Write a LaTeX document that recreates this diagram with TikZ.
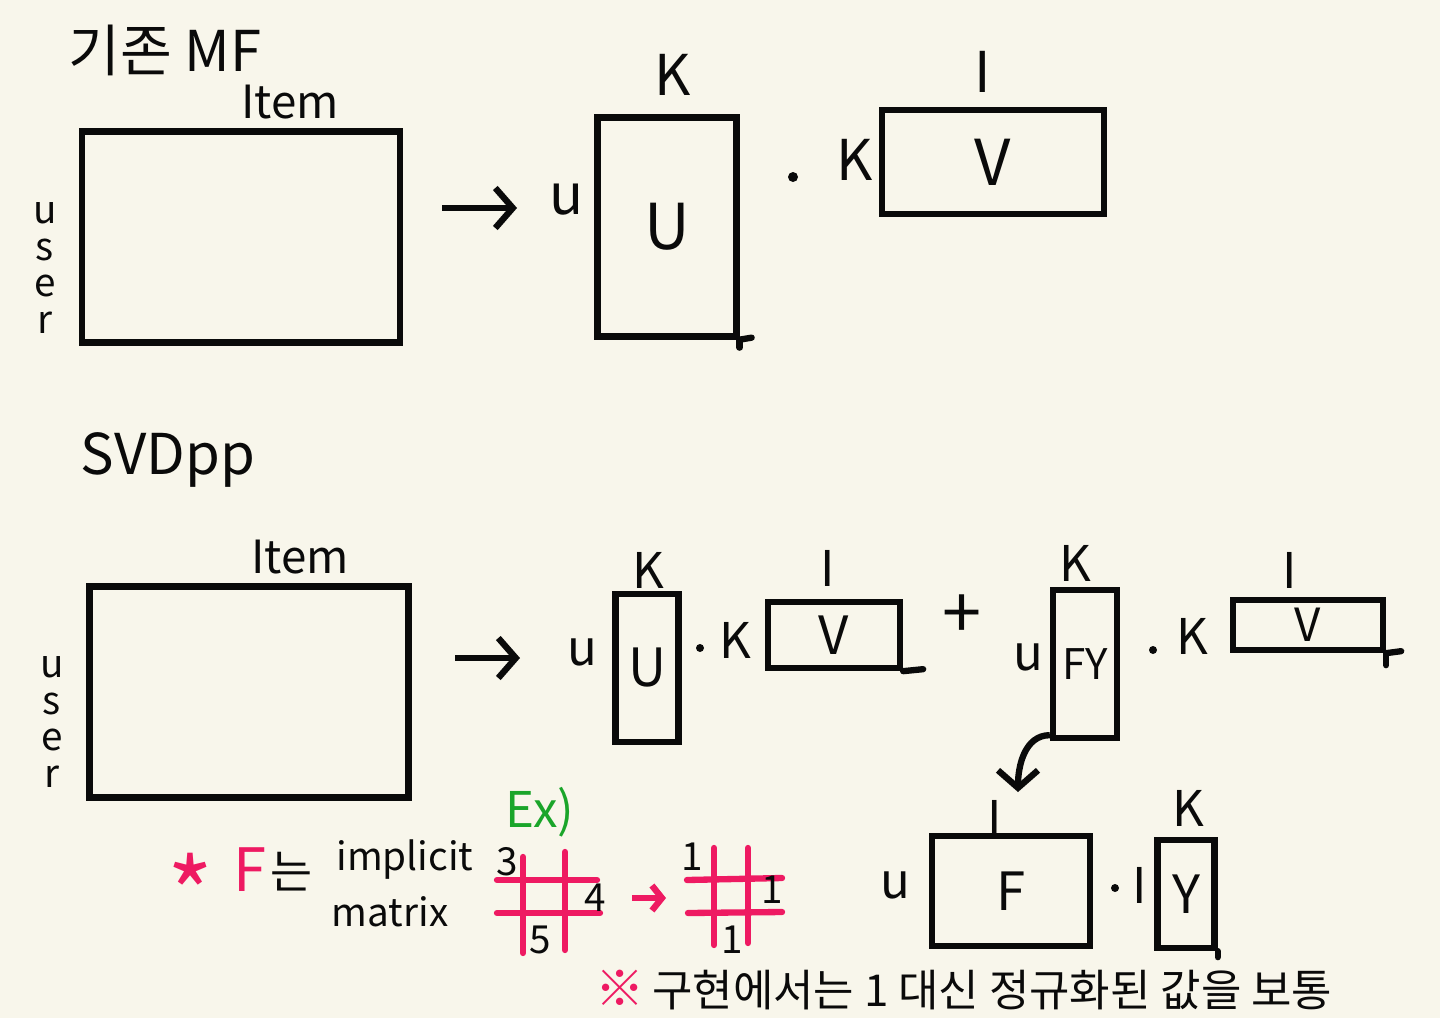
\documentclass[tikz,border=0pt]{standalone}
\usepackage{fontspec}
\setmainfont{Noto Sans CJK KR}
\usetikzlibrary{arrows.meta,positioning}
\definecolor{paper}{HTML}{F8F6EB}
\definecolor{ink}{HTML}{0A0A0A}
\definecolor{hotpink}{HTML}{EE1A62}
\definecolor{exgreen}{HTML}{1AA52A}
\tikzset{
  >={Straight Barb[length=3.5mm,width=8mm]},
  % 행렬
  mat/.style={draw=ink,line width=3.6pt,inner sep=0pt},
  big/.style={font=\fontsize{36}{36}\selectfont,text=ink},
  bigb/.style={font=\fontsize{30}{30}\selectfont,text=ink},
  lbla/.style={font=\fontsize{32}{32}\selectfont,text=ink,inner sep=0pt},
  lblb/.style={font=\fontsize{28}{28}\selectfont,text=ink,inner sep=0pt},
  title/.style={font=\fontsize{32}{36}\selectfont,text=ink,inner sep=0pt},
  item/.style={font=\fontsize{26}{26}\selectfont,text=ink,inner sep=0pt},
  usr/.style={font=\fontsize{22}{21}\selectfont,text=ink,align=center,inner sep=0pt},
  dotn/.style={circle,fill=ink,inner sep=0pt,minimum size=0.2cm},
  arr/.style={->,draw=ink,line width=3.6pt},
  tick/.style={draw=ink,line width=3.6pt,line cap=round},
  % 메모
  grid/.style={draw=hotpink,line width=3.6pt,line cap=round},
  num/.style={font=\fontsize{22}{22}\selectfont,text=ink,inner sep=0pt},
  note/.style={font=\fontsize{22}{22}\selectfont,text=ink,inner sep=0pt},
  pinkt/.style={font=\fontsize{34}{34}\selectfont,text=hotpink,inner sep=0pt},
}

\begin{document}
\begin{tikzpicture}[x=0.02cm,y=-0.02cm]
\useasboundingbox (0,0) rectangle (1440,1018);
\fill[paper] (0,0) rectangle (1440,1018);
% 기존 MF
  \node[title] (mf) at (165,50) {기존 MF};
  \node[mat,minimum width=6.36cm,minimum height=4.22cm] (R1) at (241,237) {};
  \node[item] (item1) at (290,102) {Item};
  \node[usr] (user1) at (45,268) {u\\s\\e\\r};
  \coordinate (a1s) at (442,208);
  \coordinate (a1e) at (517,208);
  \draw[arr] (a1s) -- (a1e);
  \node[lbla] (u1) at (567,200) {u};
  \node[mat,big,minimum width=2.78cm,minimum height=4.38cm] (U1) at (667,227) {U};
  \node[lbla] (k1) at (673,75) {K};
  \draw[tick] (U1.south east) -- ++(12,-2);
  \draw[tick] (U1.south east) -- ++(0,8);
  \node[dotn] (d1) at (793,177) {};
  \node[lbla] (k2) at (855,160) {K};
  \node[mat,big,minimum width=4.44cm,minimum height=2.08cm] (V1) at (993,162) {V};
  \node[lbla] (i1) at (983,72) {I};
% SVDpp
  \node[title] (svd) at (168,460) {SVDpp};
  \node[mat,minimum width=6.38cm,minimum height=4.22cm] (R2) at (249,692) {};
  \node[item] (item2) at (300,557) {Item};
  \node[usr] (user2) at (52,722) {u\\s\\e\\r};
  \coordinate (a2s) at (455,658);
  \coordinate (a2e) at (520,658);
  \draw[arr] (a2s) -- (a2e);
  \node[lblb] (u2) at (582,652) {u};
  \node[mat,bigb,minimum width=1.26cm,minimum height=2.96cm] (U2) at (647,668) {U};
  \node[lblb] (k3) at (648,570) {K};
  \node[dotn,minimum size=0.16cm] (d2) at (700,648) {};
  \node[lblb] (k4) at (735,640) {K};
  \node[mat,bigb,minimum width=2.64cm,minimum height=1.32cm] (V2) at (834,635) {V};
  \node[lblb] (i2) at (828,568) {I};
  \draw[tick] (V2.south east) -- ++(20,-2);
  \node[font=\fontsize{40}{40}\selectfont,text=ink] (plus) at (962,617) {+};
  \node[lblb] (u3) at (1028,657) {u};
  \node[mat,font=\fontsize{24}{24}\selectfont,text=ink,minimum width=1.28cm,minimum height=2.96cm] (FY) at (1085,664) {FY};
  \node[lblb] (k5) at (1075,563) {K};
  \node[dotn,minimum size=0.16cm] (d3) at (1153,650) {};
  \node[lblb] (k6) at (1192,636) {K};
  \node[mat,font=\fontsize{26}{26}\selectfont,text=ink,minimum width=3.0cm,minimum height=1.0cm] (V3) at (1308,625) {V};
  \node[lblb] (i3) at (1290,570) {I};
  \draw[tick] (V3.south east) -- ++(15,-2);
  \draw[tick] (V3.south east) -- ++(0,12);
% FY 분해
  \coordinate (fyd) at (1018,792);
  \draw[arr] ([yshift=0.12cm]FY.south west) to[out=180,in=90] (fyd);
  \node[lblb] (u4) at (895,885) {u};
  \node[mat,bigb,minimum width=3.16cm,minimum height=2.2cm] (F) at (1011,891) {F};
  \node[lblb] (i4) at (995,818) {I};
  \node[dotn,minimum size=0.16cm] (d4) at (1115,888) {};
  \node[lblb] (i5) at (1140,885) {I};
  \node[mat,bigb,minimum width=1.14cm,minimum height=2.16cm] (Y) at (1186,894) {Y};
  \node[lblb] (k7) at (1188,808) {K};
  \draw[tick] (Y.south east) -- ++(0,6);
% implicit 메모
  \node[font=\fontsize{56}{56}\selectfont,text=hotpink,inner sep=0pt] (star) at (190,892) {*};
  \node[pinkt] (fp) at (250,870) {F};
  \node[note,font=\fontsize{26}{26}\selectfont] (neun) at (292,872) {는};
  \node[note] (impl) at (405,860) {implicit};
  \node[note] (mtx) at (390,912) {matrix};
  \node[font=\fontsize{28}{28}\selectfont,text=exgreen,inner sep=0pt] (ex) at (540,812) {Ex)};
  \draw[grid] (523,857) -- (523,953);
  \draw[grid] (565,852) -- (565,950);
  \draw[grid] (497,880) -- (597,880);
  \draw[grid] (497,913) -- (600,913);
  \node[num] (n3) at (507,862) {3};
  \node[num] (n4) at (595,898) {4};
  \node[num] (n5) at (540,940) {5};
  \coordinate (g1e) at (632,898);
  \coordinate (g2w) at (666,898);
  \draw[->,draw=hotpink,line width=3.6pt,>={Straight Barb[length=2mm,width=5mm]}] (g1e) -- (g2w);
  \draw[grid] (714,848) -- (714,945);
  \draw[grid] (748,848) -- (748,943);
  \draw[grid] (687,880) -- (782,878);
  \draw[grid] (688,913) -- (782,912);
  \node[num] (m1) at (692,857) {1};
  \node[num] (m2) at (772,890) {1};
  \node[num] (m3) at (732,940) {1};
  \node[font=\fontsize{28}{28}\selectfont,text=hotpink,inner sep=0pt] (ref) at (620,988) {※};
  \node[note,font=\fontsize{25}{25}\selectfont,anchor=west] (impnote) at (652,990) {구현에서는 1 대신 정규화된 값을 보통};
\end{tikzpicture}
\end{document}
